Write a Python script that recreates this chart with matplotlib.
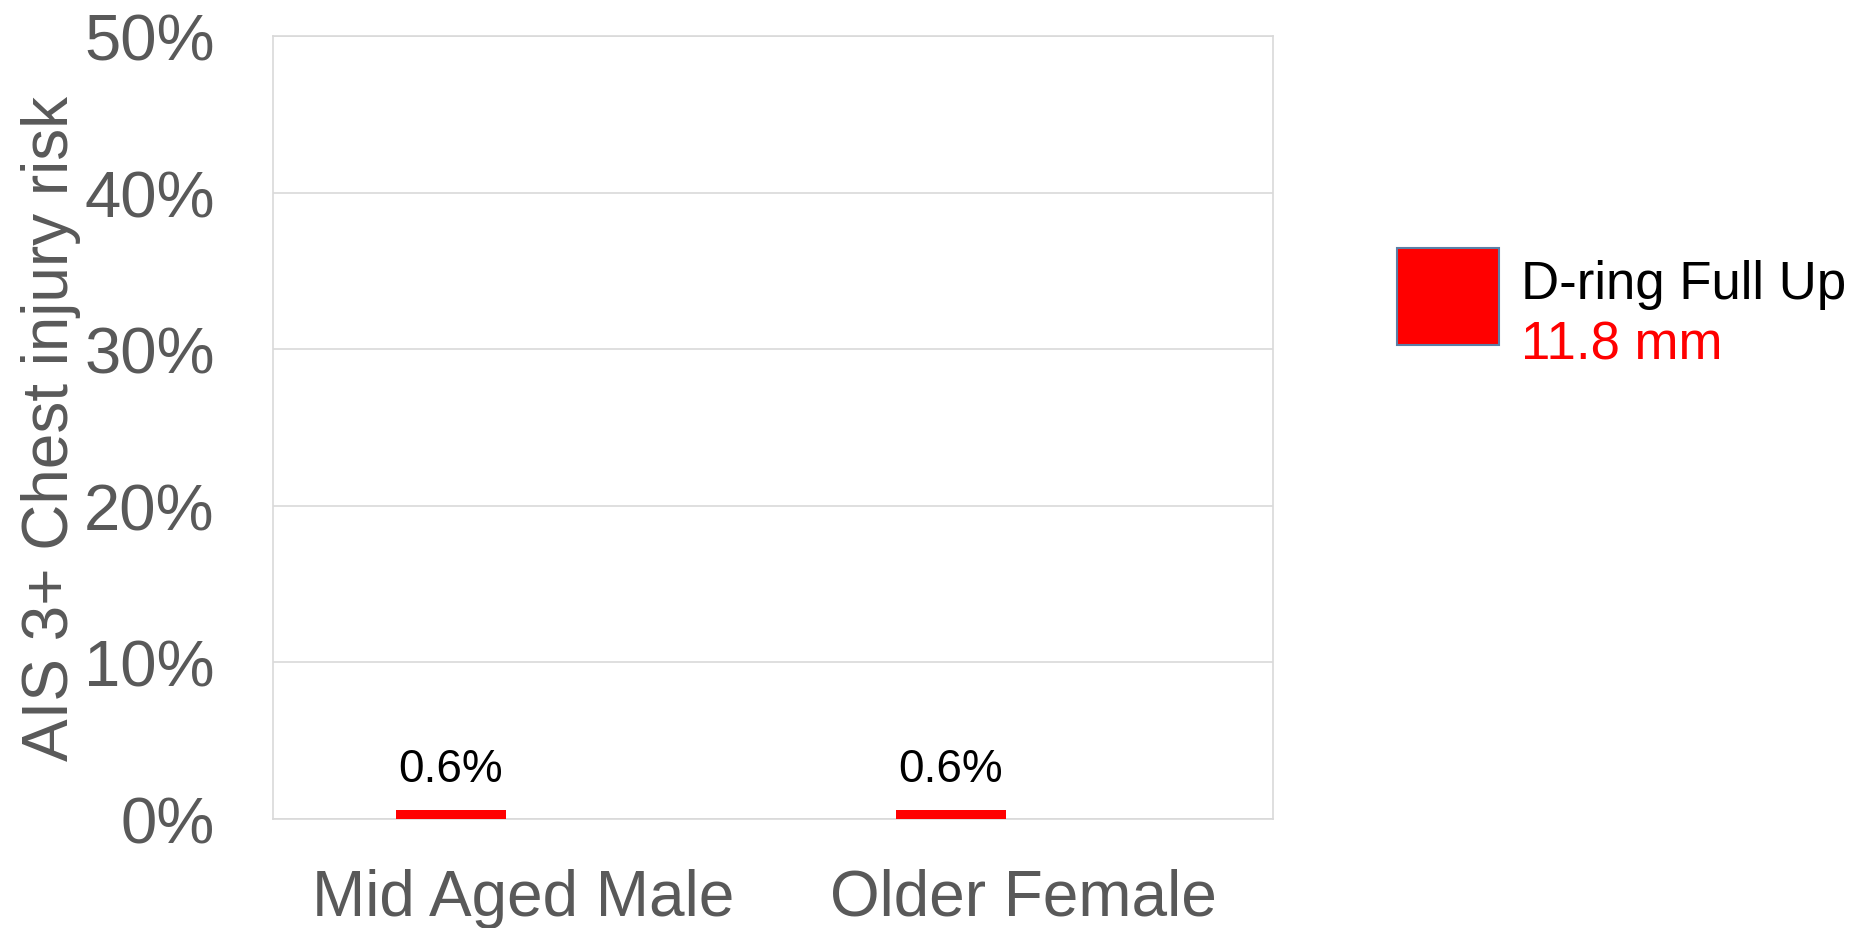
import numpy as np
import matplotlib.pyplot as plt
from matplotlib.patches import Rectangle

plt.rcParams['font.family'] = ['Liberation Sans', 'DejaVu Sans']

categories = ["Mid Aged Male", "Older Female"]
risk = [0.6, 0.6]   # percent
series_name = "D-ring Full Up"
series_sub = "11.8 mm"
yticks = [0, 10, 20, 30, 40, 50]

GRAY = "#595959"
GRID = "#d9d9d9"

fig = plt.figure(figsize=(18.67, 9.29), dpi=100)
ax = fig.add_axes([273/1867, 1 - 820/929, 1000/1867, 783/929])

x = np.arange(len(categories))
ax.bar(x - 0.144, risk, width=0.22, color="red", zorder=3)
for xi, v in zip(x, risk):
    ax.text(xi - 0.144, v + 1.2, f"{v:.1f}%", ha="center", va="bottom",
            fontsize=33, color="black")

ax.set_xlim(-0.5, len(categories) - 0.5)
ax.set_ylim(0, 50)
ax.set_yticks(yticks)
ax.set_yticklabels([f"{t}%" for t in yticks], fontsize=47, color=GRAY)
ax.set_xticks(x)
ax.set_xticklabels(categories, fontsize=46, color=GRAY)
ax.tick_params(axis="both", length=0)
ax.tick_params(axis="y", pad=42)
ax.tick_params(axis="x", pad=35)
ax.grid(axis="y", color=GRID, linewidth=1.2, zorder=0)
for s in ax.spines.values():
    s.set_color(GRID)
    s.set_linewidth(1.2)

ax.set_ylabel("AIS 3+ Chest injury risk", fontsize=46, color=GRAY)
ax.yaxis.set_label_coords(-0.192, 0.5)

# legend
fig.patches.append(Rectangle((1397/1867, 1 - 346/929), 102/1867, 97/929,
                             transform=fig.transFigure, facecolor="red",
                             edgecolor="#5b7fa6", linewidth=1.5))
fig.text(1521/1867, 1 - 299/929, series_name, fontsize=38, color="black", va="baseline")
fig.text(1521/1867, 1 - 360/929, series_sub, fontsize=38, color="red", va="baseline")

fig.savefig("out.png", dpi=100, facecolor="white")
